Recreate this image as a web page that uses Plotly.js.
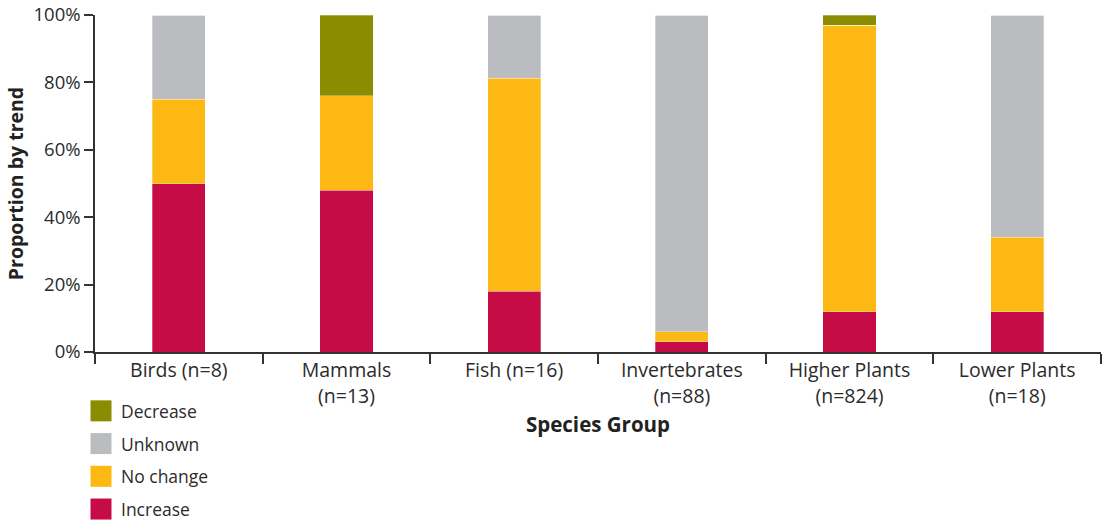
<!DOCTYPE html>
<html>
<head>
<meta charset="utf-8">
<script src="https://cdn.plot.ly/plotly-3.0.1.min.js"></script>
<style>html,body{margin:0;padding:0;background:#fff;}#chart{width:1103px;height:521px;}</style>
</head>
<body>
<div id="chart"></div>
<script>
var categories = ["Birds (n=8)", "Mammals<br>(n=13)", "Fish (n=16)", "Invertebrates<br>(n=88)", "Higher Plants<br>(n=824)", "Lower Plants<br>(n=18)"];
var increase = [50, 48, 18, 3, 12, 12];
var noChange = [25, 28, 63.3, 3, 85, 22];
var unknown = [25, 0, 18.7, 94, 0, 66];
var decrease = [0, 24, 0, 0, 3, 0];
var seriesNames = ["Increase", "No change", "Unknown", "Decrease"];
var seriesColors = ["#C60C46", "#FDB813", "#BBBCBF", "#8C8C00"];
var yTickVals = [0, 20, 40, 60, 80, 100];
var yTickText = ["0%", "20%", "40%", "60%", "80%", "100%"];

var seriesValues = [increase, noChange, unknown, decrease];
var FONT = "'Open Sans', sans-serif";
var traces = seriesValues.map(function (vals, i) {
  return {
    type: "bar",
    name: seriesNames[i],
    x: categories,
    y: vals,
    marker: {color: seriesColors[i], line: {color: "rgba(255,255,255,0.6)", width: 0.5}},
    showlegend: false,
    hovertemplate: "%{x}: %{y}%<extra>" + seriesNames[i] + "</extra>"
  };
});

// legend drawn as swatches + labels, top item = last series
var shapes = [], annotations = [];
var legendTop = 400, step = 32.7, sw = 21;
var plotBottom = 351.7, plotH = 336.7, plotL = 94.5, plotW = 1006.5;
for (var k = 0; k < seriesNames.length; k++) {
  var idx = seriesNames.length - 1 - k;
  var y0 = legendTop + k * step;
  shapes.push({type: "rect", xref: "paper", yref: "paper", layer: "above",
    x0: (90 - plotL) / plotW, x1: (111 - plotL) / plotW,
    y0: (plotBottom - y0) / plotH,
    y1: (plotBottom - (y0 + sw)) / plotH,
    fillcolor: seriesColors[idx], line: {width: 0}});
  annotations.push({xref: "paper", yref: "paper", x: (119 - plotL) / plotW, y: (plotBottom - (y0 + sw / 2)) / plotH,
    xanchor: "left", yanchor: "middle", showarrow: false, text: seriesNames[idx],
    font: {family: FONT, size: 17.5, color: "#2b2b2b"}});
}

var layout = {
  width: 1103, height: 521,
  margin: {l: plotL, r: 2, t: 15, b: 169.3},
  paper_bgcolor: "#fff", plot_bgcolor: "#fff",
  barmode: "stack", bargap: 0.682,
  font: {family: FONT, size: 17, color: "#2b2b2b"},
  showlegend: false,
  xaxis: {
    type: "category", showline: true, linecolor: "#333", linewidth: 1.5,
    ticks: "outside", tickson: "boundaries", ticklen: 10, tickwidth: 1.5, tickcolor: "#333",
    showgrid: false, zeroline: false,
    tickfont: {family: FONT, size: 19.5, color: "#2b2b2b"},
    title: {text: "<b>Species Group</b>", font: {family: FONT, size: 20.5, color: "#222"}, standoff: 10}
  },
  yaxis: {
    range: [0, 100], tickmode: "array", tickvals: yTickVals, ticktext: yTickText,
    showline: true, linecolor: "#333", linewidth: 1.5,
    ticks: "outside", ticklen: 9, tickwidth: 1.5, tickcolor: "#333",
    showgrid: false, zeroline: false,
    tickfont: {family: FONT, size: 18.5, color: "#2b2b2b"},
    title: {text: "<b>Proportion by trend</b>", font: {family: FONT, size: 19.5, color: "#222"}, standoff: 5}
  },
  shapes: shapes,
  annotations: annotations
};

Plotly.newPlot("chart", traces, layout, {displayModeBar: false, responsive: false});
</script>
</body>
</html>
